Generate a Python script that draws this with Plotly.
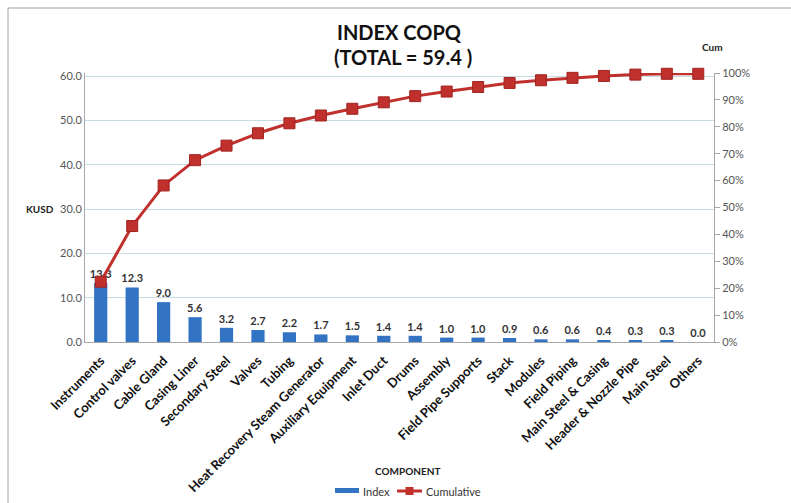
import plotly.graph_objects as go

categories = ["Instruments", "Control valves", "Cable Gland", "Casing Liner", "Secondary Steel",
              "Valves", "Tubing", "Heat Recovery Steam Generator", "Auxiliary Equipment",
              "Inlet Duct", "Drums", "Assembly", "Field Pipe Supports", "Stack", "Modules",
              "Field Piping", "Main Steel & Casing", "Header & Nozzle Pipe", "Main Steel", "Others"]
index_values = [13.3, 12.3, 9.0, 5.6, 3.2, 2.7, 2.2, 1.7, 1.5, 1.4, 1.4, 1.0, 1.0, 0.9, 0.6,
                0.6, 0.4, 0.3, 0.3, 0.0]
cumulative_pct = [0.224, 0.431, 0.582, 0.676, 0.730, 0.776, 0.813, 0.842, 0.867, 0.891, 0.914,
                  0.931, 0.948, 0.963, 0.973, 0.982, 0.989, 0.994, 0.997, 0.997]
left_ticks = [0, 10, 20, 30, 40, 50, 60]

FONT = "Lato"
W, H = 791, 503
ML, MR, MT, MB = 85, 77, 73, 161
PW, PH = W - ML - MR, H - MT - MB

BLUE = "#3373C4"
RED = "#C0302C"


def px(x):
    return (x - ML) / PW


def py(y):
    return (H - MB - y) / PH


fig = go.Figure()
fig.add_trace(go.Bar(
    x=categories, y=index_values, name="Index",
    marker=dict(color=BLUE, line=dict(width=0)),
    width=0.42,
    text=[f"<b>{v:.1f}</b>" for v in index_values], textposition="outside",
    constraintext="none",
    textfont=dict(family=FONT, size=11, color="#333333"),
    cliponaxis=False, showlegend=False,
))
fig.add_trace(go.Scatter(
    x=categories, y=cumulative_pct, name="Cumulative", yaxis="y2",
    mode="lines+markers",
    line=dict(color=RED, width=3),
    marker=dict(symbol="square", size=11, color=RED, line=dict(color="#A02420", width=1)),
    cliponaxis=False, showlegend=False,
))

fig.update_layout(
    width=W, height=H,
    margin=dict(l=ML, r=MR, t=MT, b=MB, autoexpand=False),
    paper_bgcolor="white", plot_bgcolor="white",
    font=dict(family=FONT, color="#333333"),
    showlegend=False,
    xaxis=dict(
        range=[-0.5, len(categories) - 0.5],
        tickangle=-45, automargin=False,
        tickfont=dict(family=FONT, size=13, color="#111111", weight="bold"),
        showline=True, linecolor="#A8A8A8", linewidth=1,
        showgrid=False, ticks="outside", ticklen=5, tickcolor="rgba(0,0,0,0)", fixedrange=True,
    ),
    yaxis=dict(
        range=[0, 60.7], tickvals=left_ticks, ticktext=[f"{v:.1f}" for v in left_ticks],
        tickfont=dict(family=FONT, size=11, color="#555555"), automargin=False,
        showgrid=True, gridcolor="#C9DCE3", gridwidth=1,
        showline=True, linecolor="#A8A8A8", linewidth=1,
        zeroline=False, ticks="",
    ),
    yaxis2=dict(
        overlaying="y", side="right", range=[0, 1.0], dtick=0.1, tickformat=".0%",
        tickfont=dict(family=FONT, size=11, color="#555555"), automargin=False,
        showgrid=False, showline=True, linecolor="#A8A8A8", linewidth=1,
        ticks="outside", ticklen=5, tickcolor="#A8A8A8", zeroline=False,
    ),
)

annotations = [
    dict(text="<b>INDEX COPQ</b>", x=px(400), y=py(32), xanchor="center", font=dict(family=FONT, size=20, color="#111111")),
    dict(text="<b>(TOTAL = 59.4 )</b>", x=px(403), y=py(57), xanchor="center", font=dict(family=FONT, size=20, color="#111111")),
    dict(text="<b>KUSD</b>", x=px(40), y=py(209), xanchor="center", font=dict(family=FONT, size=10, color="#222222")),
    dict(text="<b>Cum</b>", x=px(712), y=py(47), xanchor="center", font=dict(family=FONT, size=10, color="#222222")),
    dict(text="<b>COMPONENT</b>", x=px(407), y=py(471), xanchor="center", font=dict(family=FONT, size=10, color="#222222")),
    dict(text="Index", x=px(361), y=py(491), xanchor="left", font=dict(family=FONT, size=11, color="#333333")),
    dict(text="Cumulative", x=px(424), y=py(491), xanchor="left", font=dict(family=FONT, size=11, color="#333333")),
]
for a in annotations:
    fig.add_annotation(xref="paper", yref="paper", showarrow=False, yanchor="middle", **a)

# legend keys
fig.add_shape(type="rect", xref="paper", yref="paper", x0=px(335), x1=px(359), y0=py(493), y1=py(488),
              line=dict(width=0), fillcolor=BLUE)
fig.add_shape(type="line", xref="paper", yref="paper", x0=px(397), x1=px(422), y0=py(491), y1=py(491),
              line=dict(color=RED, width=3))
fig.add_shape(type="rect", xref="paper", yref="paper", x0=px(405.5), x1=px(413.5), y0=py(495), y1=py(487),
              line=dict(width=0), fillcolor=RED)

fig.add_shape(type="rect", xref="paper", yref="paper",
              x0=px(8), x1=px(800), y0=py(512), y1=py(8),
              line=dict(color="#A0A0A0", width=1), fillcolor="rgba(0,0,0,0)", layer="below")

fig.write_html("out.html")
